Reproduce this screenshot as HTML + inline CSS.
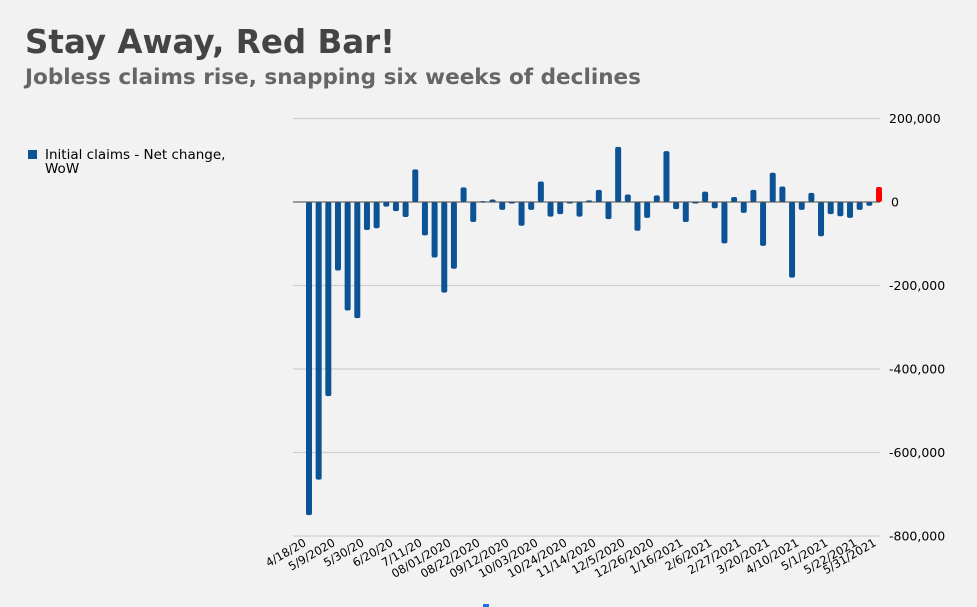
<!DOCTYPE html>
<html><head><meta charset="utf-8"><style>
html,body{margin:0;padding:0;background:#f2f2f2;}
svg{display:block;font-family:"DejaVu Sans","Liberation Sans",sans-serif;}
</style></head><body>
<svg id="chart" width="977" height="607" viewBox="0 0 977 607">
<rect width="977" height="607" fill="#f2f2f2"/>
<text x="25" y="53" font-size="33" font-weight="bold" fill="#444" textLength="370" lengthAdjust="spacingAndGlyphs">Stay Away, Red Bar!</text>
<text x="25" y="84" font-size="21" font-weight="bold" fill="#666" textLength="616" lengthAdjust="spacingAndGlyphs">Jobless claims rise, snapping six weeks of declines</text>
<g>
<rect x="28" y="150" width="9" height="9" fill="#0b5394"/>
<text x="45" y="159" font-size="13.5" fill="#000">Initial claims - Net change,</text>
<text x="45" y="173" font-size="13.5" fill="#000">WoW</text>
</g>
<g id="grid"></g>
<g id="bars"></g>
<g id="xlabels"></g>
<rect x="483" y="604" width="6" height="3" fill="#1a73e8"/>
</svg>
<script>
const values = [-750000,-665000,-465000,-164000,-260000,-278000,-67000,-63000,-11000,-22000,-36000,78000,-80000,-133000,-217000,-160000,35000,-48000,2000,6000,-19000,0,-57000,-19000,49000,-35000,-29000,-3000,-35000,4000,29000,-41000,132000,18000,-69000,-38000,16000,122000,-17000,-48000,0,25000,-15000,-99000,12000,-26000,29000,-105000,70000,37000,-181000,-19000,22000,-82000,-29000,-34000,-38000,-19000,-9000,36000];
const yTicks = [200000,0,-200000,-400000,-600000,-800000];
const xTickIndex = [0,3,6,9,12,15,18,21,24,27,30,33,36,39,42,45,48,51,54,57,59];
const xTickLabels = ["4/18/20","5/9/2020","5/30/20","6/20/20","7/11/20","08/01/2020","08/22/2020","09/12/2020","10/03/2020","10/24/2020","11/14/2020","12/5/2020","12/26/2020","1/16/2021","2/6/2021","2/27/2021","3/20/2021","4/10/2021","5/1/2021","5/22/2021","5/31/2021"];

const NS="http://www.w3.org/2000/svg";
const y = v => 202 - v/200000*83.5;
const x = i => 309 + i*(570/(values.length-1));
function mk(tag, attrs, parent){const e=document.createElementNS(NS,tag);for(const k in attrs)e.setAttribute(k,attrs[k]);parent.appendChild(e);return e;}
const grid=document.getElementById('grid');
yTicks.forEach(t=>{
  if(t!==0){const l=mk('line',{x1:293,x2:880,y1:y(t),y2:y(t),stroke:'#cfcfcf','stroke-width':1.2},grid);
  
  }
  const tx=mk('text',{x:t===0?891:889,y:y(t)+4.5,'font-size':12.5,fill:'#000'},grid);
  tx.textContent=t===0?'0':t.toLocaleString('en-US');
  
  
});
const bars=document.getElementById('bars');
values.forEach((v,i)=>{
  const top=Math.min(y(v),y(0)),h=Math.max(Math.abs(y(v)-y(0)),1.5);
  const r=mk('rect',{x:x(i)-3,y:top,width:6,height:h,rx:2,fill:i===values.length-1?'#ff0000':'#0b5394'},bars);
  
  
});
const zl=mk('line',{x1:293,x2:880,y1:y(0),y2:y(0),stroke:'#444','stroke-width':1},bars);


const xl=document.getElementById('xlabels');
xTickIndex.forEach((idx,k)=>{
  const px=x(idx)-2,py=545;
  const t=mk('text',{x:px,y:py,'font-size':11.5,fill:'#000','text-anchor':'end',transform:`rotate(-30 ${px} ${py})`},xl);
  t.textContent=xTickLabels[k];
  
  
});
</script>
</body></html>
